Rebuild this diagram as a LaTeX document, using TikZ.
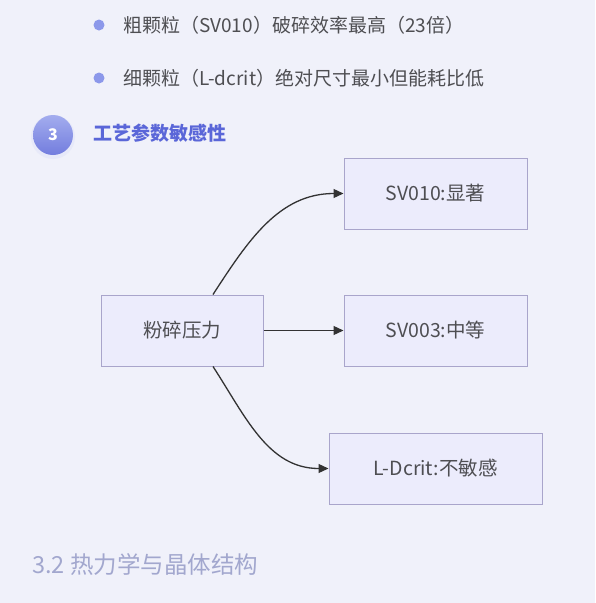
\documentclass[tikz,border=0pt]{standalone}
\usepackage{fontspec}
\setmainfont{Noto Sans CJK SC}
\usepackage{tikz}
\usetikzlibrary{arrows.meta,positioning}

\definecolor{pagebg}{HTML}{F0F1FA}
\definecolor{boxfill}{HTML}{ECECFC}
\definecolor{boxline}{HTML}{A9A5CB}
\definecolor{dotblue}{HTML}{8C98EA}
\definecolor{headblue}{HTML}{5A66D8}
\definecolor{bodygray}{HTML}{4E4E52}
\definecolor{subgray}{HTML}{A2A7CE}
\definecolor{edgegray}{HTML}{333333}

\begin{document}
\begin{tikzpicture}[
  x=1pt, y=-1pt,
  node distance=65pt and 80pt,
  factor/.style={draw=boxline, fill=boxfill, line width=1pt, align=center, minimum height=71pt, inner sep=0pt, text=bodygray, font=\fontsize{19.5}{22}\selectfont},
  bullet/.style={circle, fill=dotblue, minimum size=11pt, inner sep=0pt},
  item/.style={anchor=west, inner sep=0pt, text=bodygray, font=\fontsize{19}{22}\selectfont},
  arrow/.style={-{Triangle[length=10pt,width=9pt]}, line width=1.3pt, draw=edgegray}
]
\useasboundingbox[fill=pagebg] (0,0) rectangle (595,603);

% list items
\node[bullet] (dot1) at (99,25) {};
\node[item] (item1) at (123,25) {粗颗粒（SV010）破碎效率最高（23倍）};
\node[bullet] (dot2) at (99,78) {};
\node[item] (item2) at (123,78) {细颗粒（L-dcrit）绝对尺寸最小但能耗比低};

% section heading
\node[circle, minimum size=44pt, fill=dotblue!30, opacity=0.45] (glow) at (53,137) {};
\node[circle, minimum size=40pt, inner sep=0pt, top color=dotblue!80!white, bottom color=headblue!85!white, text=white, font=\fontsize{16}{18}\selectfont\bfseries] (num) at (53,135) {3};
\node[anchor=west, inner sep=0pt, text=headblue, font=\fontsize{19}{22}\selectfont\bfseries] (head) at (93,133) {工艺参数敏感性};

% graph
\node[factor, minimum width=162pt] (press) at (182,330.5) {粉碎压力};
\node[factor, minimum width=183pt, right=of press] (sv003) {SV003:中等};
\node[factor, minimum width=183pt, above=of sv003] (sv010) {SV010:显著};
\node[factor, minimum width=213pt, below=66pt of sv003] (ldcrit) {L-Dcrit:不敏感};
\draw[arrow] ([xshift=31pt]press.north) to[out=57,in=180] (sv010.west);
\draw[arrow] (press.east) -- (sv003.west);
\draw[arrow] ([xshift=31pt]press.south) to[out=-57,in=180] (ldcrit.west);

% next section
\node[anchor=west, inner sep=0pt, text=subgray, font=\fontsize{23.5}{27}\selectfont] (next) at (32,565) {3.2 热力学与晶体结构};
\end{tikzpicture}
\end{document}
